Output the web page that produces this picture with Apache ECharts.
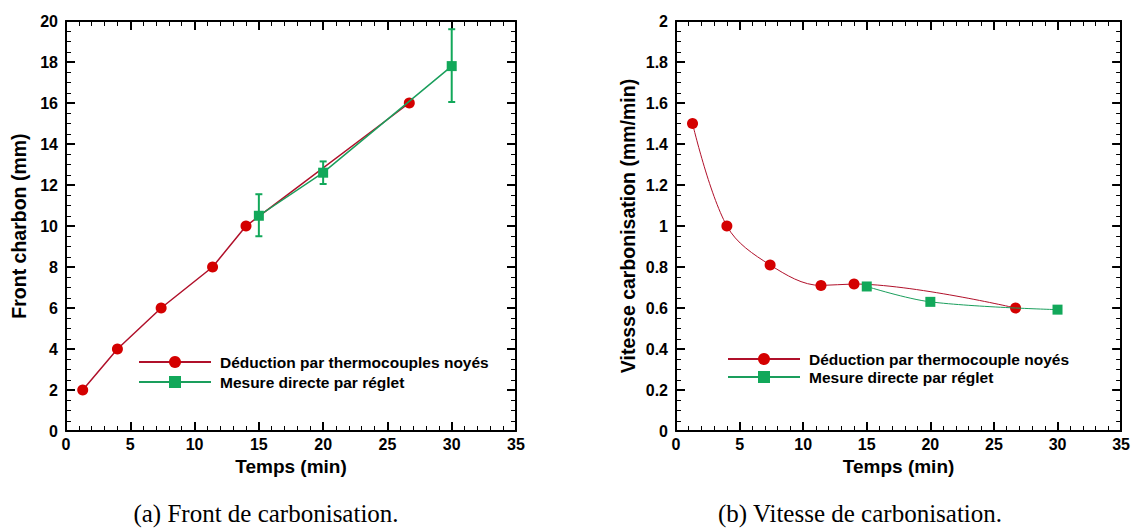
<!DOCTYPE html>
<html>
<head>
<meta charset="utf-8">
<script src="https://cdn.jsdelivr.net/npm/echarts@6/dist/echarts.min.js"></script>
<style>
html,body{margin:0;padding:0;background:#fff;}
#c{width:1133px;height:531px;}
</style>
</head>
<body>
<div id="c"></div>
<script>
// ---- data ----
const timeRed = [1.3, 4.0, 7.4, 11.4, 14.0, 26.7];
const timeGreen = [15, 20, 30];
const frontRed = [2, 4, 6, 8, 10, 16];
const frontGreen = [10.5, 12.6, 17.8];
const frontErrLow = [9.5, 12.05, 16.05];
const frontErrHigh = [11.55, 13.15, 19.6];
const vitRed = [1.5, 1.0, 0.81, 0.71, 0.717, 0.6];
const vitGreen = [0.705, 0.63, 0.592];
const nameRedA = 'Déduction par thermocouples noyés';
const nameRedB = 'Déduction par thermocouple noyés';
const nameGreen = 'Mesure directe par réglet';
const captionA = '(a) Front de carbonisation.';
const captionB = '(b) Vitesse de carbonisation.';
const xTitle = 'Temps (min)';
const yTitleA = 'Front charbon (mm)';
const yTitleB = 'Vitesse carbonisation (mm/min)';

const FONT = 'Liberation Sans';
const RED = '#d40000', REDLINE = '#b0102a', GREEN = '#12a85a', GREENLINE = '#1a9e5c';

function zip(xs, ys) { return xs.map((x, i) => [x, ys[i]]); }

function axis(kind, pos, gridIndex, min, max, interval, minorSplit, showLabel, name, nameGap) {
  const a = {
    type: 'value', gridIndex, position: pos, min, max, interval,
    axisLine: { show: true, onZero: false, lineStyle: { color: '#000', width: 2 } },
    axisTick: { show: true, inside: true, length: 9, lineStyle: { color: '#000', width: 2 } },
    minorTick: { show: true, splitNumber: minorSplit, length: 5, lineStyle: { color: '#000', width: 1 } },
    splitLine: { show: false },
    axisLabel: { show: showLabel, color: '#000', fontFamily: FONT, fontWeight: 'bold', fontSize: 16, margin: kind === 'x' ? 5 : 8, showMaxLabel: true, showMinLabel: true }
  };
  if (name) {
    a.name = name; a.nameLocation = 'middle'; a.nameGap = nameGap;
    a.nameTextStyle = { color: '#000', fontFamily: FONT, fontWeight: 'bold', fontSize: kind === 'x' ? 19 : 19.5 };
  }
  return a;
}

function errorBars(xIdx, yIdx, xs, lo, hi) {
  return {
    type: 'custom', xAxisIndex: xIdx, yAxisIndex: yIdx, z: 3,
    data: xs.map((x, i) => [x, lo[i], hi[i]]),
    renderItem: function (params, api) {
      const x = api.value(0);
      const pLo = api.coord([x, api.value(1)]);
      const pHi = api.coord([x, api.value(2)]);
      const w = 3.5;
      const st = { stroke: GREEN, lineWidth: 2 };
      return {
        type: 'group', children: [
          { type: 'line', shape: { x1: pLo[0], y1: pLo[1], x2: pHi[0], y2: pHi[1] }, style: st },
          { type: 'line', shape: { x1: pLo[0] - w, y1: pLo[1], x2: pLo[0] + w, y2: pLo[1] }, style: st },
          { type: 'line', shape: { x1: pHi[0] - w, y1: pHi[1], x2: pHi[0] + w, y2: pHi[1] }, style: st }
        ]
      };
    }
  };
}

const legendText = { color: '#000', fontFamily: FONT, fontSize: 15.5, fontWeight: 'bold', lineHeight: 15, padding: [0, 0, 0, 4] };

const chart = echarts.init(document.getElementById('c'), null, { renderer: 'svg' });
const option = {
  backgroundColor: '#fff',
  animation: false,
  grid: [
    { left: 66, right: 1133 - 516, top: 21, bottom: 100 },
    { left: 676, right: 1133 - 1128, top: 21, bottom: 100 }
  ],
  xAxis: [
    axis('x', 'bottom', 0, 0, 35, 5, 5, true, xTitle, 24),
    axis('x', 'top', 0, 0, 35, 5, 5, false),
    axis('x', 'bottom', 1, 0, 35, 5, 5, true, xTitle, 24),
    axis('x', 'top', 1, 0, 35, 5, 5, false)
  ],
  yAxis: [
    axis('y', 'left', 0, 0, 20, 2, 4, true, yTitleA, 37),
    axis('y', 'right', 0, 0, 20, 2, 4, false),
    axis('y', 'left', 1, 0, 2, 0.2, 4, true, yTitleB, 38),
    axis('y', 'right', 1, 0, 2, 0.2, 4, false)
  ],
  legend: [
    {
      data: [nameRedA, nameGreen], orient: 'vertical', left: 133, top: 349,
      itemWidth: 72, itemHeight: 15, itemGap: 4, selectedMode: false,
      textStyle: legendText
    },
    {
      data: [nameRedB, nameGreen], orient: 'vertical', left: 722, top: 346,
      itemWidth: 72, itemHeight: 15, itemGap: 2, selectedMode: false,
      textStyle: legendText
    }
  ],
  series: [
    {
      name: nameRedA, type: 'line', xAxisIndex: 0, yAxisIndex: 0, z: 2,
      data: zip(timeRed, frontRed), symbol: 'circle', symbolSize: 11,
      itemStyle: { color: RED }, lineStyle: { color: REDLINE, width: 1.5 }
    },
    errorBars(0, 0, timeGreen, frontErrLow, frontErrHigh),
    {
      name: nameGreen, type: 'line', xAxisIndex: 0, yAxisIndex: 0, z: 4,
      data: zip(timeGreen, frontGreen), symbol: 'rect', symbolSize: 10,
      itemStyle: { color: GREEN }, lineStyle: { color: GREENLINE, width: 1.5 }
    },
    {
      name: nameRedB, type: 'line', xAxisIndex: 2, yAxisIndex: 2, z: 2,
      data: zip(timeRed, vitRed), symbol: 'circle', symbolSize: 11, smooth: 0.35,
      itemStyle: { color: RED }, lineStyle: { color: REDLINE, width: 1 }
    },
    {
      name: nameGreen, type: 'line', xAxisIndex: 2, yAxisIndex: 2, z: 3,
      data: zip(timeGreen, vitGreen), symbol: 'rect', symbolSize: 10, smooth: 0.35,
      itemStyle: { color: GREEN }, lineStyle: { color: GREENLINE, width: 1 }
    }
  ],
  graphic: [
    { type: 'text', x: 266, y: 513, style: { text: captionA, textAlign: 'center', textVerticalAlign: 'middle', font: '25px "Liberation Serif"', fill: '#000' } },
    { type: 'text', x: 860, y: 513, style: { text: captionB, textAlign: 'center', textVerticalAlign: 'middle', font: '25px "Liberation Serif"', fill: '#000' } }
  ]
};
chart.setOption(option);
</script>
</body>
</html>
